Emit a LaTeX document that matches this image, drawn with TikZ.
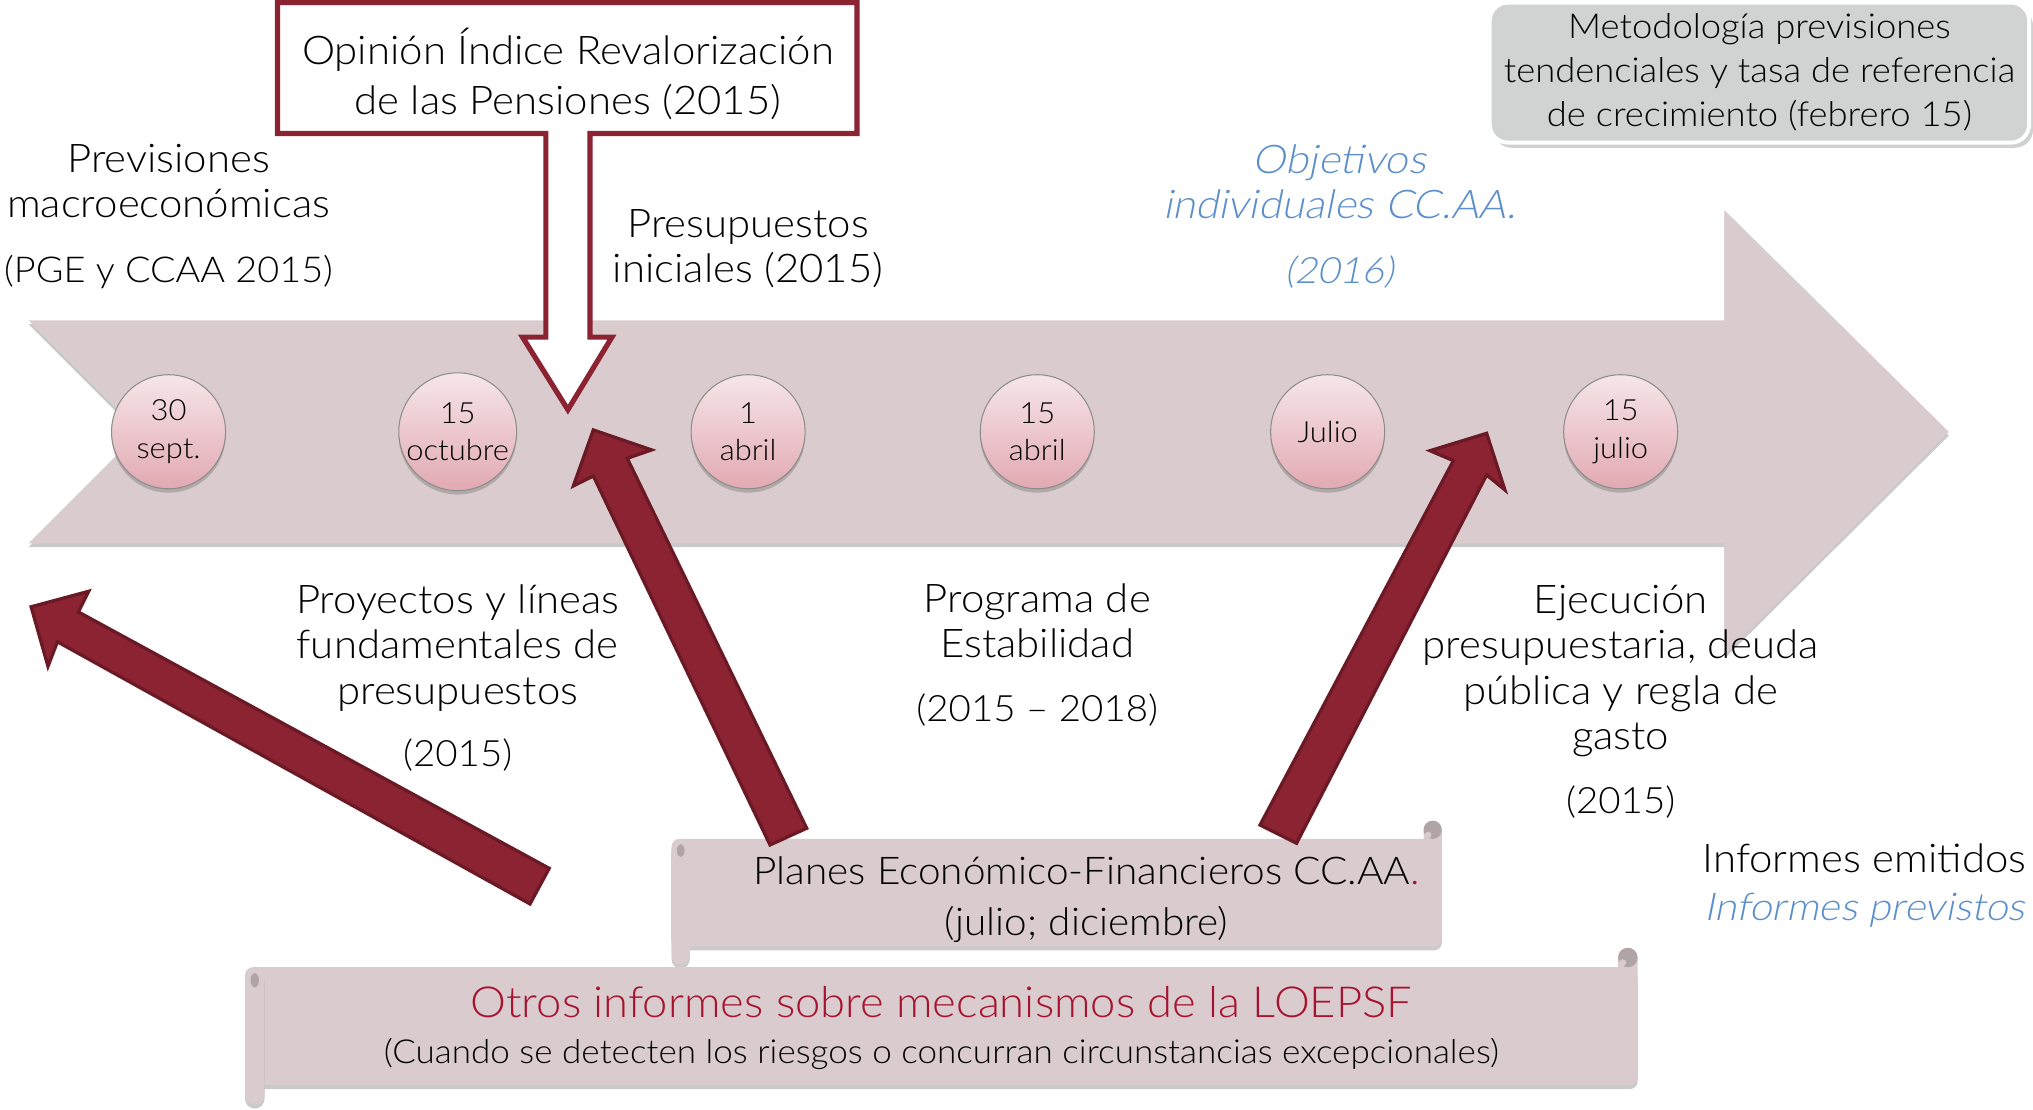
\documentclass[tikz,border=0pt]{standalone}
\usepackage{fontspec}
\IfFontExistsTF{Lato Light}{\setmainfont{Lato Light}[FakeStretch=1.06,ItalicFont={Lato Light},ItalicFeatures={FakeSlant=0.2}]}{\setmainfont{Lato}[FakeStretch=1.06]}
\usetikzlibrary{shadows}
\definecolor{band}{HTML}{DACCCE}
\definecolor{wine}{HTML}{8B2332}
\definecolor{winedark}{HTML}{6A1925}
\definecolor{pinklt}{HTML}{F6E6E9}
\definecolor{pinkdk}{HTML}{E2A9B2}
\definecolor{curl}{HTML}{B0A5A6}
\definecolor{greybox}{HTML}{D1D2D2}
\definecolor{bluetxt}{HTML}{5B8FCB}
\definecolor{redtxt}{HTML}{A6132F}
\newcommand\numline{\fontsize{28}{35}\selectfont}
\tikzset{
  softshadow/.style={drop shadow={shadow xshift=0pt, shadow yshift=-3pt, opacity=0.35, fill=black!60}},
  datecirc/.style={circle, minimum size=88pt, inner sep=0pt, draw=black!45, line width=0.8pt,
    top color=pinklt, bottom color=pinkdk, align=center, font=\fontsize{22.5}{29}\selectfont, softshadow},
  lbl/.style={align=center, inner sep=0pt, font=\fontsize{30.5}{35}\selectfont},
  bluelbl/.style={lbl, text=bluetxt, font=\fontsize{30.5}{35}\selectfont\itshape},
  redarrow/.style={fill=wine, draw=winedark, line width=2.5pt, line join=miter},
  scrollbody/.style={fill=band, rounded corners=6pt},
}
\begin{document}
\begin{tikzpicture}[x=1pt,y=-1pt]
\useasboundingbox (0,0) rectangle (1568,856);
% timeline band
\path[fill=band, softshadow] (22,247) -- (1330,247) -- (1330,162) -- (1503,333) -- (1330,505)
  -- (1330,419) -- (22,419) -- (108,333) -- cycle;
% date circles
\node[datecirc] (c1) at (130,333) {30\\sept.};
\node[datecirc] (c2) at (353,333) {15\\octubre};
\node[datecirc] (c3) at (577,333) {1\\abril};
\node[datecirc] (c4) at (800,333) {15\\abril};
\node[datecirc] (c5) at (1024,333) {Julio};
\node[datecirc] (c6) at (1250,333) {15\\julio};
% callout
\path[fill=white, draw=wine, line width=4pt, line join=miter]
  (214,2) -- (661,2) -- (661,103) -- (455,103) -- (455,260) -- (472,260) -- (438,316)
  -- (403,260) -- (421,260) -- (421,103) -- (214,103) -- cycle;
\node[lbl, font=\fontsize{30.5}{39}\selectfont] (opinion) at (438,57) {Opinión Índice Revalorización\\de las Pensiones (2015)};
% metodologia box
\path[fill=greybox, draw=white, line width=3pt, rounded corners=14pt,
  drop shadow={shadow xshift=3pt, shadow yshift=-4pt, opacity=0.3, fill=black!60}] (1149,2) rectangle (1565,110);
\node[lbl, font=\fontsize{26.5}{34}\selectfont] (metod) at (1357,56) {Metodología previsiones\\tendenciales y tasa de referencia\\de crecimiento (febrero 15)};
% top labels
\node[lbl] (prev) at (130,167) {Previsiones\\macroeconómicas\\[15pt]{\fontsize{27.5}{35}\selectfont (PGE y CCAA 2015)}};
\node[lbl] (presu) at (577,192) {Presupuestos\\iniciales (2015)};
\node[bluelbl] (obj) at (1033,167) {Objetivos\\individuales CC.AA.\\[15pt]{\numline (2016)}};
% bottom labels
\node[lbl] (proy) at (353,523) {Proyectos y líneas\\fundamentales de\\presupuestos\\[13pt]{\numline (2015)}};
\node[lbl] (prog) at (800,505) {Programa de\\Estabilidad\\[14pt]{\numline (2015 -- 2018)}};
\node[lbl] (ejec) at (1250,541) {Ejecución\\presupuestaria, deuda\\pública y regla de\\gasto\\[14pt]{\numline (2015)}};
\node[lbl] (inf1) at (1438,662) {Informes emitidos};
\node[bluelbl, font=\fontsize{29.5}{35}\selectfont\itshape] (inf2) at (1438,702) {Informes previstos};
% scroll: planes
\path[scrollbody, softshadow] (518,647) rectangle (1112,730);
\path[scrollbody, rounded corners=7pt] (1098,730) rectangle (1112,633);
\fill[curl] (1105,640) circle (7pt);
\fill[band] (1101.5,644) circle (2.5pt);
\path[scrollbody, rounded corners=7pt, softshadow] (518,647) rectangle (532,744);
\fill[curl] (525,656) ellipse (3pt and 5pt);
\node[lbl, font=\fontsize{29.5}{39}\selectfont] (planes) at (838,694) {Planes Económico-Financieros CC.AA\textcolor{redtxt}{.}\\(julio; diciembre)};
% scroll: otros
\path[scrollbody, softshadow] (189,746) rectangle (1263,837);
\path[scrollbody, rounded corners=7.5pt] (1248,837) rectangle (1263,731);
\fill[curl] (1255.5,738.5) circle (7.5pt);
\fill[band] (1251.5,742.5) circle (2.7pt);
\path[scrollbody, rounded corners=7.5pt, softshadow] (189,746) rectangle (204,852);
\fill[curl] (196.5,756) ellipse (3.2pt and 5.5pt);
\node[lbl, text=redtxt, font=\fontsize{33}{36}\selectfont] (otros1) at (726,773) {Otros informes sobre mecanismos de la LOEPSF};
\node[lbl, font=\fontsize{25.5}{30}\selectfont] (otros2) at (726,813) {(Cuando se detecten los riesgos o concurran circunstancias excepcionales)};
% red arrows
\path[redarrow] (24,468) -- (68.5,456) -- (60.5,472) -- (423.6,669.7) -- (408.8,697.2) -- (44.3,495) -- (37,514) -- cycle;
\path[redarrow] (457.6,331.6) -- (502.6,347) -- (483.8,353.5) -- (622.2,638.8) -- (593.9,651.7) -- (457.6,367.1) -- (442.2,374.8) -- cycle;
\path[redarrow] (1146.6,334.2) -- (1160.7,377.9) -- (1146.6,366.3) -- (1000,650.4) -- (971.8,636.3) -- (1120.9,355.3) -- (1102.9,347.6) -- cycle;
\end{tikzpicture}
\end{document}
